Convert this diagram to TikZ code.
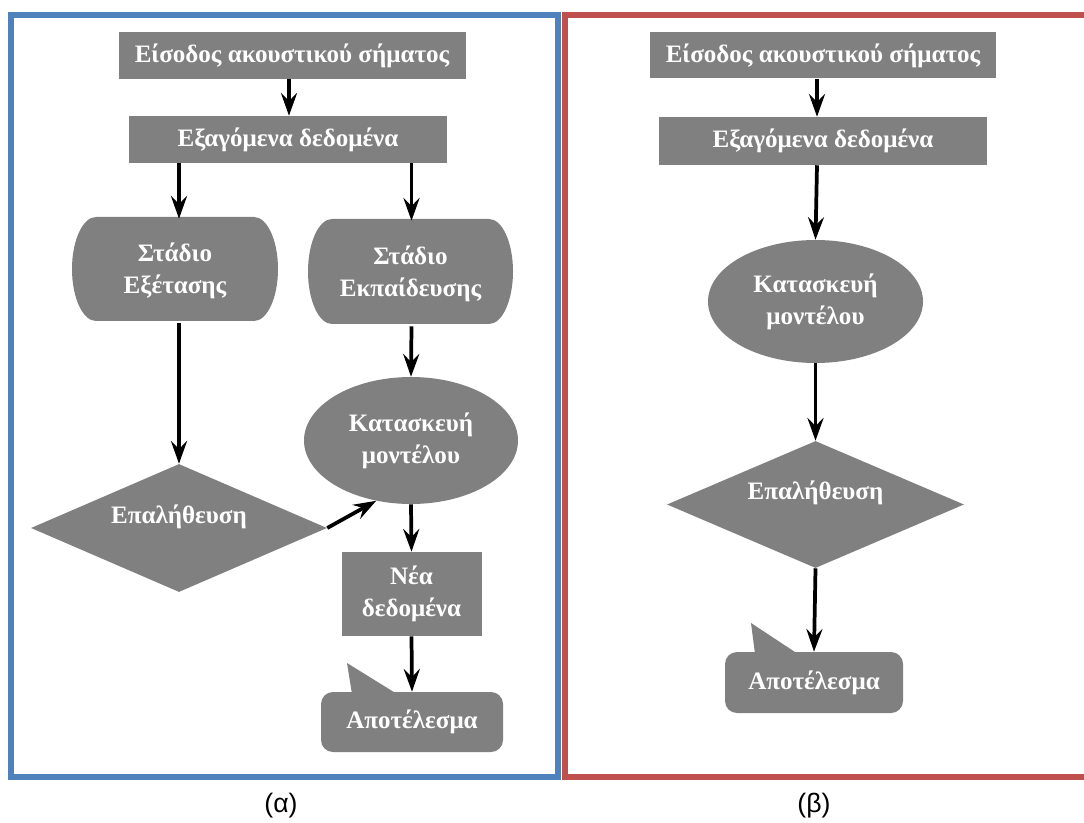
\documentclass[tikz,border=0pt]{standalone}
\usepackage{fontspec}
\setmainfont{Liberation Serif}
\newfontfamily\capfont{Liberation Sans}
\usetikzlibrary{shapes.geometric,arrows.meta}
\definecolor{shapegray}{RGB}{128,128,128}
\definecolor{frameblue}{RGB}{79,129,189}
\definecolor{framered}{RGB}{192,80,77}

\begin{document}
\begin{tikzpicture}[x=0.75pt,y=-0.75pt,
  lbl/.style={text=white, font=\bfseries\fontsize{18.8}{24}\selectfont, align=center, inner sep=0pt},
  proc/.style 2 args={lbl, fill=shapegray, minimum width=#1*0.75pt, minimum height=#2*0.75pt},
  area/.style 2 args={lbl, minimum width=#1*0.75pt, minimum height=#2*0.75pt},
  oval/.style 2 args={lbl, ellipse, fill=shapegray, minimum width=#1*0.75pt, minimum height=#2*0.75pt},
  decision/.style 2 args={lbl, diamond, aspect=2.3, fill=shapegray, minimum width=#1*0.75pt, minimum height=#2*0.75pt, text height=12pt, text depth=19pt},
  flow/.style={line width=2.8pt, -{Stealth[length=17pt,width=12pt,inset=6pt]}},
  frame/.style={line width=4.5pt},
  caption/.style={font=\capfont\fontsize{20}{24}\selectfont, inner sep=0pt}
]
\useasboundingbox (0,0) rectangle (1084,823);

% frames
\draw[frame, frameblue] (11,15) rectangle (558,777);
\draw[frame, framered] (1084,15) -- (565,15) -- (565,777) -- (1084,777);

% arrow columns
\coordinate (colA) at (289,0);
\coordinate (colB) at (179,0);
\coordinate (colC) at (411.5,0);
\coordinate (colD) at (817,0);

% ---------- panel (a) ----------
\node[proc={347}{47}] (in1) at (292,55.5) {Είσοδος ακουστικού σήματος};
\node[proc={318}{47}] (ex1) at (288,139.5) {Εξαγόμενα δεδομένα};

\fill[shapegray] (96,217) -- (254,217) arc[start angle=-90, end angle=90, x radius=24, y radius=52]
  -- (96,321) arc[start angle=90, end angle=270, x radius=24, y radius=52] -- cycle;
\node[area={206}{104}] (st1) at (175,271) {Στάδιο\\Εξέτασης};

\fill[shapegray] (332,219) -- (489,219) arc[start angle=-90, end angle=90, x radius=24, y radius=52.5]
  -- (332,324) arc[start angle=90, end angle=270, x radius=24, y radius=52.5] -- cycle;
\node[area={205}{105}] (st2) at (410.5,273.5) {Στάδιο\\Εκπαίδευσης};

\node[oval={214}{127}] (mo1) at (411,440.5) {Κατασκευή\\μοντέλου};
\node[decision={296}{128}] (va1) at (179,528) {Επαλήθευση};
\node[proc={140}{84}] (nd1) at (411.5,594) {Νέα\\δεδομένα};

\fill[shapegray, rounded corners=9pt] (321,692) rectangle (503,752);
\fill[shapegray] (352,694) -- (347,663) -- (397,694) -- cycle;
\node[area={182}{60}] (re1) at (412,722) {Αποτέλεσμα};

\draw[flow] (in1.south -| colA) -- (ex1.north -| colA);
\draw[flow] (ex1.south -| colB) -- (st1.north -| colB);
\draw[flow] (ex1.south -| colC) -- (st2.north -| colC);
\draw[flow] (st1.south -| colB) -- (va1.north);
\draw[flow] (st2.south -| colC) -- (mo1.north);
\draw[flow] (mo1.south) -- (nd1.north);
\draw[flow] (nd1.south) -- (re1.north);
\draw[flow] (va1.east) -- (mo1.240);

\node[caption] (capA) at (281,806) {(α)};

% ---------- panel (b) ----------
\node[proc={346}{46}] (in2) at (823,55.5) {Είσοδος ακουστικού σήματος};
\node[proc={328}{48}] (ex2) at (823,141) {Εξαγόμενα δεδομένα};
\node[oval={215}{123}] (mo2) at (815.5,301.5) {Κατασκευή\\μοντέλου};
\node[decision={297}{127}] (va2) at (815.5,504.5) {Επαλήθευση};

\fill[shapegray, rounded corners=9pt] (725,652) rectangle (903,713);
\fill[shapegray] (755,654) -- (751,623) -- (798,654) -- cycle;
\node[area={178}{61}] (re2) at (814,682.5) {Αποτέλεσμα};

\draw[flow] (in2.south -| colD) -- (ex2.north -| colD);
\draw[flow] (ex2.south -| colD) -- (mo2.north);
\draw[flow] (mo2.south) -- (va2.north);
\draw[flow] (va2.south) -- (re2.north);

\node[caption] (capB) at (814,806) {(β)};
\end{tikzpicture}
\end{document}
